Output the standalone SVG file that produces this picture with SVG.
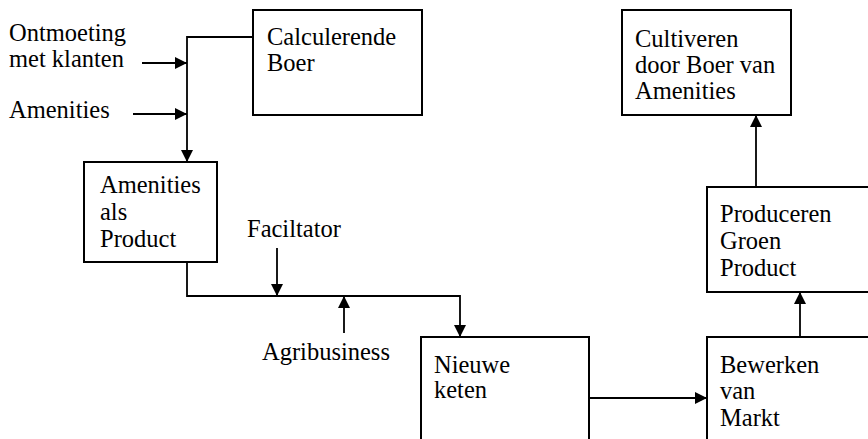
<svg xmlns="http://www.w3.org/2000/svg" width="868" height="439" viewBox="0 0 868 439">
<style>
text{font-family:"Liberation Serif","Times New Roman",serif;font-size:24.5px;fill:#000}
.box{fill:#fff;stroke:#000;stroke-width:2}
.ln{fill:none;stroke:#000;stroke-width:1.8}
</style>
<defs>
<marker id="ah" markerUnits="userSpaceOnUse" markerWidth="12" markerHeight="12" viewBox="0 0 12 12" refX="12" refY="6" orient="auto">
<path d="M0,0 L12,6 L0,12 Z" fill="#000"/>
</marker>
</defs>
<rect width="868" height="439" fill="#fff"/>
<g id="connectors">
<path class="ln" d="M253,37 H187 V162" marker-end="url(#ah)"/>
<path class="ln" d="M142,63 H187" marker-end="url(#ah)"/>
<path class="ln" d="M133,114 H187" marker-end="url(#ah)"/>
<path class="ln" d="M187,262 V296 H460 V337" marker-end="url(#ah)"/>
<path class="ln" d="M277,248 V296" marker-end="url(#ah)"/>
<path class="ln" d="M344,333 V296" marker-end="url(#ah)"/>
<path class="ln" d="M589,398 H707" marker-end="url(#ah)"/>
<path class="ln" d="M800,337 V292" marker-end="url(#ah)"/>
<path class="ln" d="M756,187 V115" marker-end="url(#ah)"/>
</g>
<g id="input-ontmoeting"><text x="9" y="41">Ontmoeting</text><text x="9" y="67">met klanten</text></g>
<g id="input-amenities"><text x="9" y="118">Amenities</text></g>
<g id="input-facilitator"><text x="247" y="237">Faciltator</text></g>
<g id="input-agribusiness"><text x="262" y="360">Agribusiness</text></g>
<g id="calculerende-boer"><rect class="box" x="253" y="10" width="169" height="105"/><text x="267" y="45">Calculerende</text><text x="267" y="71">Boer</text></g>
<g id="amenities-als-product"><rect class="box" x="84" y="162" width="133" height="100"/><text x="100" y="193">Amenities</text><text x="100" y="220">als</text><text x="100" y="247">Product</text></g>
<g id="nieuwe-keten"><rect class="box" x="421" y="337" width="168" height="110"/><text x="434" y="373">Nieuwe</text><text x="434" y="398">keten</text></g>
<g id="bewerken-van-markt"><rect class="box" x="707" y="337" width="170" height="110"/><text x="720" y="373">Bewerken</text><text x="720" y="399">van</text><text x="720" y="426">Markt</text></g>
<g id="produceren-groen-product"><rect class="box" x="707" y="187" width="170" height="105"/><text x="720" y="222">Produceren</text><text x="720" y="249">Groen</text><text x="720" y="276">Product</text></g>
<g id="cultiveren"><rect class="box" x="622" y="10" width="169" height="105"/><text x="635" y="47">Cultiveren</text><text x="635" y="73">door Boer van</text><text x="635" y="99">Amenities</text></g>
</svg>
